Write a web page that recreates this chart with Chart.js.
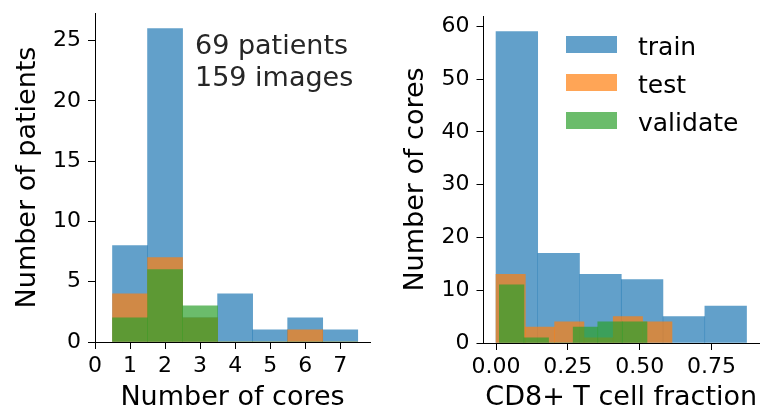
<!DOCTYPE html>
<html>
<head>
<meta charset="utf-8">
<script src="https://cdn.jsdelivr.net/npm/chart.js@4.4.1/dist/chart.umd.min.js"></script>
<style>
  body { margin: 0; background: #fff; width: 764px; height: 416px; overflow: hidden; position: relative; font-family: 'DejaVu Sans'; }
  canvas { position: absolute; top: 0; }
  #left { left: 0; }
  #right { left: 382px; }
  .note { position: absolute; left: 195px; top: 29px; font-size: 27px; line-height: 32px; color: #262626; white-space: nowrap; }
  .legend { position: absolute; left: 566px; top: 28px; font-size: 25px; color: #000; }
  .legend .row { position: relative; height: 38px; line-height: 38px; width: 190px; }
  .legend .box { position: absolute; left: 0; top: 8px; width: 51px; height: 17px; }
  .legend .txt { position: absolute; left: 72px; top: 0; white-space: nowrap; }
</style>
</head>
<body>
<canvas id="left" width="382" height="416"></canvas>
<canvas id="right" width="382" height="416"></canvas>
<div class="note">69 patients<br>159 images</div>
<div class="legend" id="legend"></div>
<script>
// left panel: patients per number of cores
var coreBins = [1, 2, 3, 4, 5, 6, 7];
var patientsTrain = [8, 26, 2, 4, 1, 2, 1];
var patientsTest = [4, 7, 2, 0, 0, 1, 0];
var patientsValidate = [2, 6, 3, 0, 0, 0, 0];

// right panel: cores per CD8+ fraction (bin edges + counts)
var trainEdges = [0, 0.145, 0.291, 0.436, 0.581, 0.727, 0.872];
var trainCores = [59, 17, 13, 12, 5, 7];
var testEdges = [0, 0.102, 0.204, 0.306, 0.408, 0.510, 0.613];
var testCores = [13, 3, 4, 1, 5, 4];
var validateEdges = [0.0115, 0.0972, 0.1828, 0.2685, 0.3542, 0.4398, 0.5255];
var validateCores = [11, 1, 0, 3, 4, 4];

var splits = ['train', 'test', 'validate'];
var colors = ['rgba(31,119,180,0.7)', 'rgba(255,127,14,0.7)', 'rgba(44,160,44,0.7)'];

Chart.defaults.font.family = 'DejaVu Sans';
Chart.defaults.color = '#000';

function toPoints(edges, counts) {
  return counts.map(function(c, i) {
    return { x: (edges[i] + edges[i + 1]) / 2, y: c };
  });
}

function barSet(i, data, axis) {
  return {
    label: splits[i],
    data: data,
    xAxisID: axis,
    backgroundColor: colors[i],
    borderWidth: 0,
    barPercentage: 1,
    categoryPercentage: 1,
    grouped: false,
    order: 3 - i
  };
}

function xAxis(min, max, step, title, height, fmt) {
  return {
    type: 'linear', min: min, max: max, offset: false,
    grid: { display: true, drawOnChartArea: false, drawTicks: true, tickLength: 7, color: '#000', lineWidth: 1, offset: false },
    border: { display: true, color: '#000', width: 1 },
    ticks: { stepSize: step, includeBounds: false, font: { size: 22 }, padding: 4, maxRotation: 0, autoSkip: false,
             callback: fmt || function(v) { return v; } },
    title: { display: true, text: title, font: { size: 27 }, padding: { top: 0, bottom: 2 } },
    afterFit: function(s) { s.height = height; }
  };
}

function hiddenX(min, max) {
  return { type: 'linear', display: false, min: min, max: max, offset: false,
           ticks: { stepSize: 1, includeBounds: false } };
}

function yAxis(max, step, title, width, titlePad) {
  return {
    min: 0, max: max,
    grid: { display: true, drawOnChartArea: false, drawTicks: true, tickLength: 7, color: '#000', lineWidth: 1 },
    border: { display: true, color: '#000', width: 1 },
    ticks: { stepSize: step, includeBounds: false, font: { size: 22 }, padding: 7 },
    title: { display: true, text: title, font: { size: 27 }, padding: { top: titlePad, bottom: 0 } },
    afterFit: function(s) { s.width = width; s.paddingTop = 0; s.paddingBottom = 0; }
  };
}

var common = {
  responsive: false,
  animation: false,
  plugins: { legend: { display: false }, tooltip: { enabled: false } }
};

var leftPoints = function(vals) {
  return vals.map(function(v, i) { return { x: coreBins[i], y: v }; });
};

new Chart(document.getElementById('left'), {
  type: 'bar',
  data: {
    datasets: [
      barSet(0, leftPoints(patientsTrain), 'x'),
      barSet(1, leftPoints(patientsTest), 'x'),
      barSet(2, leftPoints(patientsValidate), 'x')
    ]
  },
  options: Object.assign({}, common, {
    layout: { padding: { left: 0, top: 13, right: 12, bottom: 0 } },
    scales: {
      x: xAxis(0, 7.85, 1, 'Number of cores', 74),
      y: yAxis(27.3, 5, 'Number of patients', 95, 12)
    }
  })
});

var xMin = -0.0436, xMax = 0.9154;

new Chart(document.getElementById('right'), {
  type: 'bar',
  data: {
    datasets: [
      barSet(0, toPoints(trainEdges, trainCores), 'x'),
      barSet(1, toPoints(testEdges, testCores), 'xTest'),
      barSet(2, toPoints(validateEdges, validateCores), 'xVal')
    ]
  },
  options: Object.assign({}, common, {
    layout: { padding: { left: 0, top: 16, right: 5, bottom: 0 } },
    scales: {
      x: xAxis(xMin, xMax, 0.25, 'CD8+ T cell fraction', 73, function(v) { return v.toFixed(2); }),
      xTest: hiddenX(xMin, xMax),
      xVal: hiddenX(xMin, xMax),
      y: yAxis(61.95, 10, 'Number of cores', 101.5, 18)
    }
  })
});

// legend inside the right panel
var legend = document.getElementById('legend');
splits.forEach(function(name, i) {
  var row = document.createElement('div');
  row.className = 'row';
  row.innerHTML = '<span class="box" style="background:' + colors[i] + '"></span><span class="txt">' + name + '</span>';
  legend.appendChild(row);
});
</script>
</body>
</html>
